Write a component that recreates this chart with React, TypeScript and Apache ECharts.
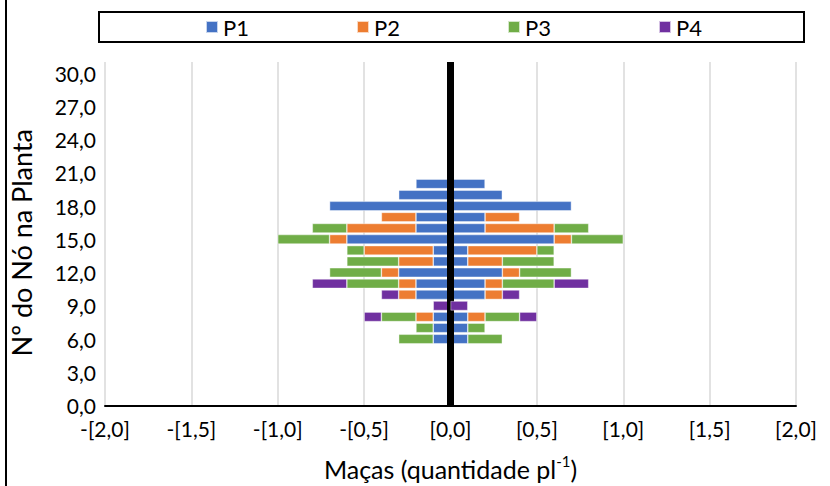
import React, { useEffect, useRef } from "react";
import * as echarts from "echarts";

// Nodes (y) and apples per plant for each period (right side; left side mirrors)
const nodes = [6, 7, 8, 9, 10, 11, 12, 13, 14, 15, 16, 17, 18, 19, 20];
const p1 = [0.1, 0.1, 0.1, 0, 0.2, 0.2, 0.3, 0.1, 0.1, 0.6, 0.2, 0.2, 0.7, 0.3, 0.2];
const p2 = [0, 0, 0.1, 0, 0.1, 0.1, 0.1, 0.2, 0.4, 0.1, 0.4, 0.2, 0, 0, 0];
const p3 = [0.2, 0.1, 0.2, 0, 0, 0.3, 0.3, 0.3, 0.1, 0.3, 0.2, 0, 0, 0, 0];
const p4 = [0, 0, 0.1, 0.1, 0.1, 0.2, 0, 0, 0, 0, 0, 0, 0, 0, 0];

const seriesNames = ["P1", "P2", "P3", "P4"];
const seriesColors = ["#4472C4", "#ED7D31", "#70AD47", "#7030A0"];
const yTickLabels = [0, 3, 6, 9, 12, 15, 18, 21, 24, 27, 30];
const yMax = 31;
const xTicks = [-2, -1.5, -1, -0.5, 0, 0.5, 1, 1.5, 2];

const FONT = "Lato";

export default function App() {
  const ref = useRef<HTMLDivElement>(null);

  useEffect(() => {
    if (!ref.current) return;
    const chart = echarts.init(ref.current, null, { renderer: "svg" });

    const categories: number[] = [];
    for (let i = 0; i <= yMax; i++) categories.push(i);

    const valueSets = [p1, p2, p3, p4];
    const buildData = (vals: number[], sign: number) =>
      categories.map((c) => {
        const idx = nodes.indexOf(c);
        if (idx < 0) return null;
        const v = vals[idx];
        if (!v) return null;
        return sign * v;
      });

    const series: any[] = [];
    [-1, 1].forEach((sign) => {
      valueSets.forEach((vals, i) => {
        series.push({
          name: seriesNames[i],
          type: "bar",
          stack: "total",
          barWidth: 9.5,
          data: buildData(vals, sign),
          itemStyle: {
            color: seriesColors[i],
            borderColor: "rgba(255,255,255,0.7)",
            borderWidth: 0.6,
          },
          emphasis: { disabled: true },
        });
      });
    });
    // vertical zero line
    series[series.length - 1].markLine = {
      silent: true,
      symbol: ["none", "none"],
      label: { show: false },
      lineStyle: { color: "#000", width: 7, type: "solid" },
      data: [{ xAxis: 0 }],
    };
    series[series.length - 1].z = 5;

    const legendLefts = [205, 356, 507, 658];
    const legends = seriesNames.map((n, i) => ({
      data: [n],
      left: legendLefts[i],
      top: 15,
      padding: 0,
      icon: "rect",
      itemWidth: 12,
      itemHeight: 12,
      itemGap: 0,
      textStyle: { fontFamily: FONT, fontSize: 22, color: "#000", lineHeight: 24 },
    }));

    const fmt = (v: number) => Math.abs(v).toFixed(1).replace(".", ",");

    chart.setOption({
      animation: false,
      textStyle: { fontFamily: FONT },
      legend: legends,
      grid: { left: 103, right: 34, top: 62, bottom: 70, containLabel: false },
      xAxis: {
        type: "value",
        min: -2,
        max: 2,
        interval: 0.5,
        axisLine: { show: true, onZero: false, lineStyle: { color: "#000", width: 2 } },
        axisTick: { show: false },
        splitLine: { show: true, lineStyle: { color: "#d9d9d9", width: 1.5 } },
        axisLabel: {
          margin: 12,
          fontFamily: FONT,
          fontSize: 21,
          color: "#000",
          formatter: (v: number) => {
            const t = xTicks.find((x) => Math.abs(x - v) < 1e-9);
            if (t === undefined) return "";
            return (t < 0 ? "-[" : "[") + fmt(t) + "]";
          },
        },
        name: "Maças (quantidade pl{sup|-1})",
        nameLocation: "middle",
        nameGap: 48,
        nameTextStyle: {
          fontFamily: FONT,
          fontSize: 25,
          color: "#000",
          rich: {
            sup: { fontFamily: FONT, fontSize: 15, color: "#000", verticalAlign: "top", lineHeight: 30 },
          },
        },
      },
      yAxis: {
        type: "category",
        data: categories,
        boundaryGap: false,
        axisLine: { show: false },
        axisTick: { show: false },
        splitLine: { show: false },
        axisLabel: {
          margin: 9,
          fontFamily: FONT,
          fontSize: 21,
          color: "#000",
          interval: (index: number) => yTickLabels.indexOf(index) >= 0,
          formatter: (v: string) => Number(v).toFixed(1).replace(".", ","),
        },
        name: "Nº do Nó na Planta",
        nameLocation: "middle",
        nameRotate: 90,
        nameGap: 70,
        nameTextStyle: { fontFamily: FONT, fontSize: 27, color: "#000", padding: [0, 18, 0, 0] },
      },
      graphic: [
        {
          type: "rect",
          shape: { x: 99, y: 12, width: 705, height: 30 },
          style: { fill: "none", stroke: "#000", lineWidth: 2 },
          silent: true,
        },
        {
          type: "line",
          shape: { x1: 6, y1: 0, x2: 6, y2: 486 },
          style: { stroke: "#000", lineWidth: 2 },
          silent: true,
        },
      ],
      series,
    });

    return () => chart.dispose();
  }, []);

  return (
    <div
      ref={ref}
      style={{ position: "absolute", left: 0, top: 0, width: 830, height: 486, background: "#fff" }}
    />
  );
}
